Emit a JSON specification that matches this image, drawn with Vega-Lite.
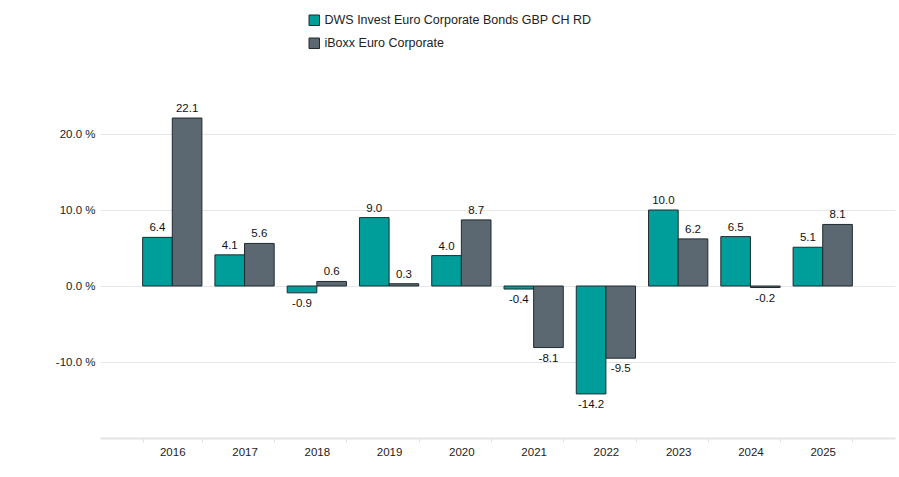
{
  "$schema": "https://vega.github.io/schema/vega-lite/v6.json",
  "width": 795,
  "height": 342,
  "autosize": {"type": "none"},
  "padding": {"left": 100, "top": 96, "right": 4, "bottom": 39},
  "background": "white",
  "config": {
    "font": "Liberation Sans",
    "view": {"stroke": null},
    "locale": {"number": {"decimal": ".", "thousands": ",", "grouping": [3], "currency": ["$", ""], "minus": "-"}}
  },
  "data": {
    "values": [
      {"year": "2016", "series": "DWS Invest Euro Corporate Bonds GBP CH RD", "value": 6.4},
      {"year": "2016", "series": "iBoxx Euro Corporate", "value": 22.1},
      {"year": "2017", "series": "DWS Invest Euro Corporate Bonds GBP CH RD", "value": 4.1},
      {"year": "2017", "series": "iBoxx Euro Corporate", "value": 5.6},
      {"year": "2018", "series": "DWS Invest Euro Corporate Bonds GBP CH RD", "value": -0.9},
      {"year": "2018", "series": "iBoxx Euro Corporate", "value": 0.6},
      {"year": "2019", "series": "DWS Invest Euro Corporate Bonds GBP CH RD", "value": 9.0},
      {"year": "2019", "series": "iBoxx Euro Corporate", "value": 0.3},
      {"year": "2020", "series": "DWS Invest Euro Corporate Bonds GBP CH RD", "value": 4.0},
      {"year": "2020", "series": "iBoxx Euro Corporate", "value": 8.7},
      {"year": "2021", "series": "DWS Invest Euro Corporate Bonds GBP CH RD", "value": -0.4},
      {"year": "2021", "series": "iBoxx Euro Corporate", "value": -8.1},
      {"year": "2022", "series": "DWS Invest Euro Corporate Bonds GBP CH RD", "value": -14.2},
      {"year": "2022", "series": "iBoxx Euro Corporate", "value": -9.5},
      {"year": "2023", "series": "DWS Invest Euro Corporate Bonds GBP CH RD", "value": 10.0},
      {"year": "2023", "series": "iBoxx Euro Corporate", "value": 6.2},
      {"year": "2024", "series": "DWS Invest Euro Corporate Bonds GBP CH RD", "value": 6.5},
      {"year": "2024", "series": "iBoxx Euro Corporate", "value": -0.2},
      {"year": "2025", "series": "DWS Invest Euro Corporate Bonds GBP CH RD", "value": 5.1},
      {"year": "2025", "series": "iBoxx Euro Corporate", "value": 8.1}
    ]
  },
  "encoding": {
    "x": {
      "field": "year", "type": "nominal",
      "scale": {"paddingInner": 0.18, "paddingOuter": 0.59},
      "axis": {
        "title": null, "labelAngle": 0, "labelFontSize": 11.5, "labelColor": "#222",
        "domainColor": "#e3e3e3", "domainWidth": 2, "ticks": true, "tickColor": "#e0e0e0",
        "tickSize": 4, "tickBand": "extent", "labelPadding": 4
      }
    },
    "xOffset": {"field": "series", "type": "nominal", "sort": ["DWS Invest Euro Corporate Bonds GBP CH RD", "iBoxx Euro Corporate"]},
    "y": {
      "field": "value", "type": "quantitative",
      "scale": {"domain": [-20, 25], "nice": false, "zero": false},
      "axis": {
        "title": null, "values": [-10, 0, 10, 20], "labelExpr": "format(datum.value, '.1f') + ' %'",
        "labelFontSize": 11.5, "labelColor": "#222", "ticks": false, "domain": false,
        "gridColor": "#e6e6e6", "labelPadding": 5
      }
    }
  },
  "layer": [
    {
      "mark": {"type": "bar", "stroke": "#1e2a2e", "strokeWidth": 1},
      "encoding": {
        "color": {
          "field": "series", "type": "nominal",
          "scale": {"domain": ["DWS Invest Euro Corporate Bonds GBP CH RD", "iBoxx Euro Corporate"], "range": ["#009e9b", "#5b6871"]},
          "legend": {
            "title": null, "orient": "none", "legendX": 208, "legendY": -82,
            "symbolType": "square", "symbolSize": 110, "symbolStrokeColor": "#1e2a2e", "symbolStrokeWidth": 1,
            "labelFontSize": 12.5, "labelColor": "#222", "rowPadding": 8, "labelLimit": 400
          }
        }
      }
    },
    {
      "transform": [{"filter": "datum.value >= 0"}],
      "mark": {"type": "text", "baseline": "bottom", "dy": -4, "fontSize": 11.5, "color": "#111"},
      "encoding": {"text": {"field": "value", "type": "quantitative", "format": ".1f"}}
    },
    {
      "transform": [{"filter": "datum.value < 0"}],
      "mark": {"type": "text", "baseline": "top", "dy": 5, "fontSize": 11.5, "color": "#111"},
      "encoding": {"text": {"field": "value", "type": "quantitative", "format": ".1f"}}
    }
  ]
}
